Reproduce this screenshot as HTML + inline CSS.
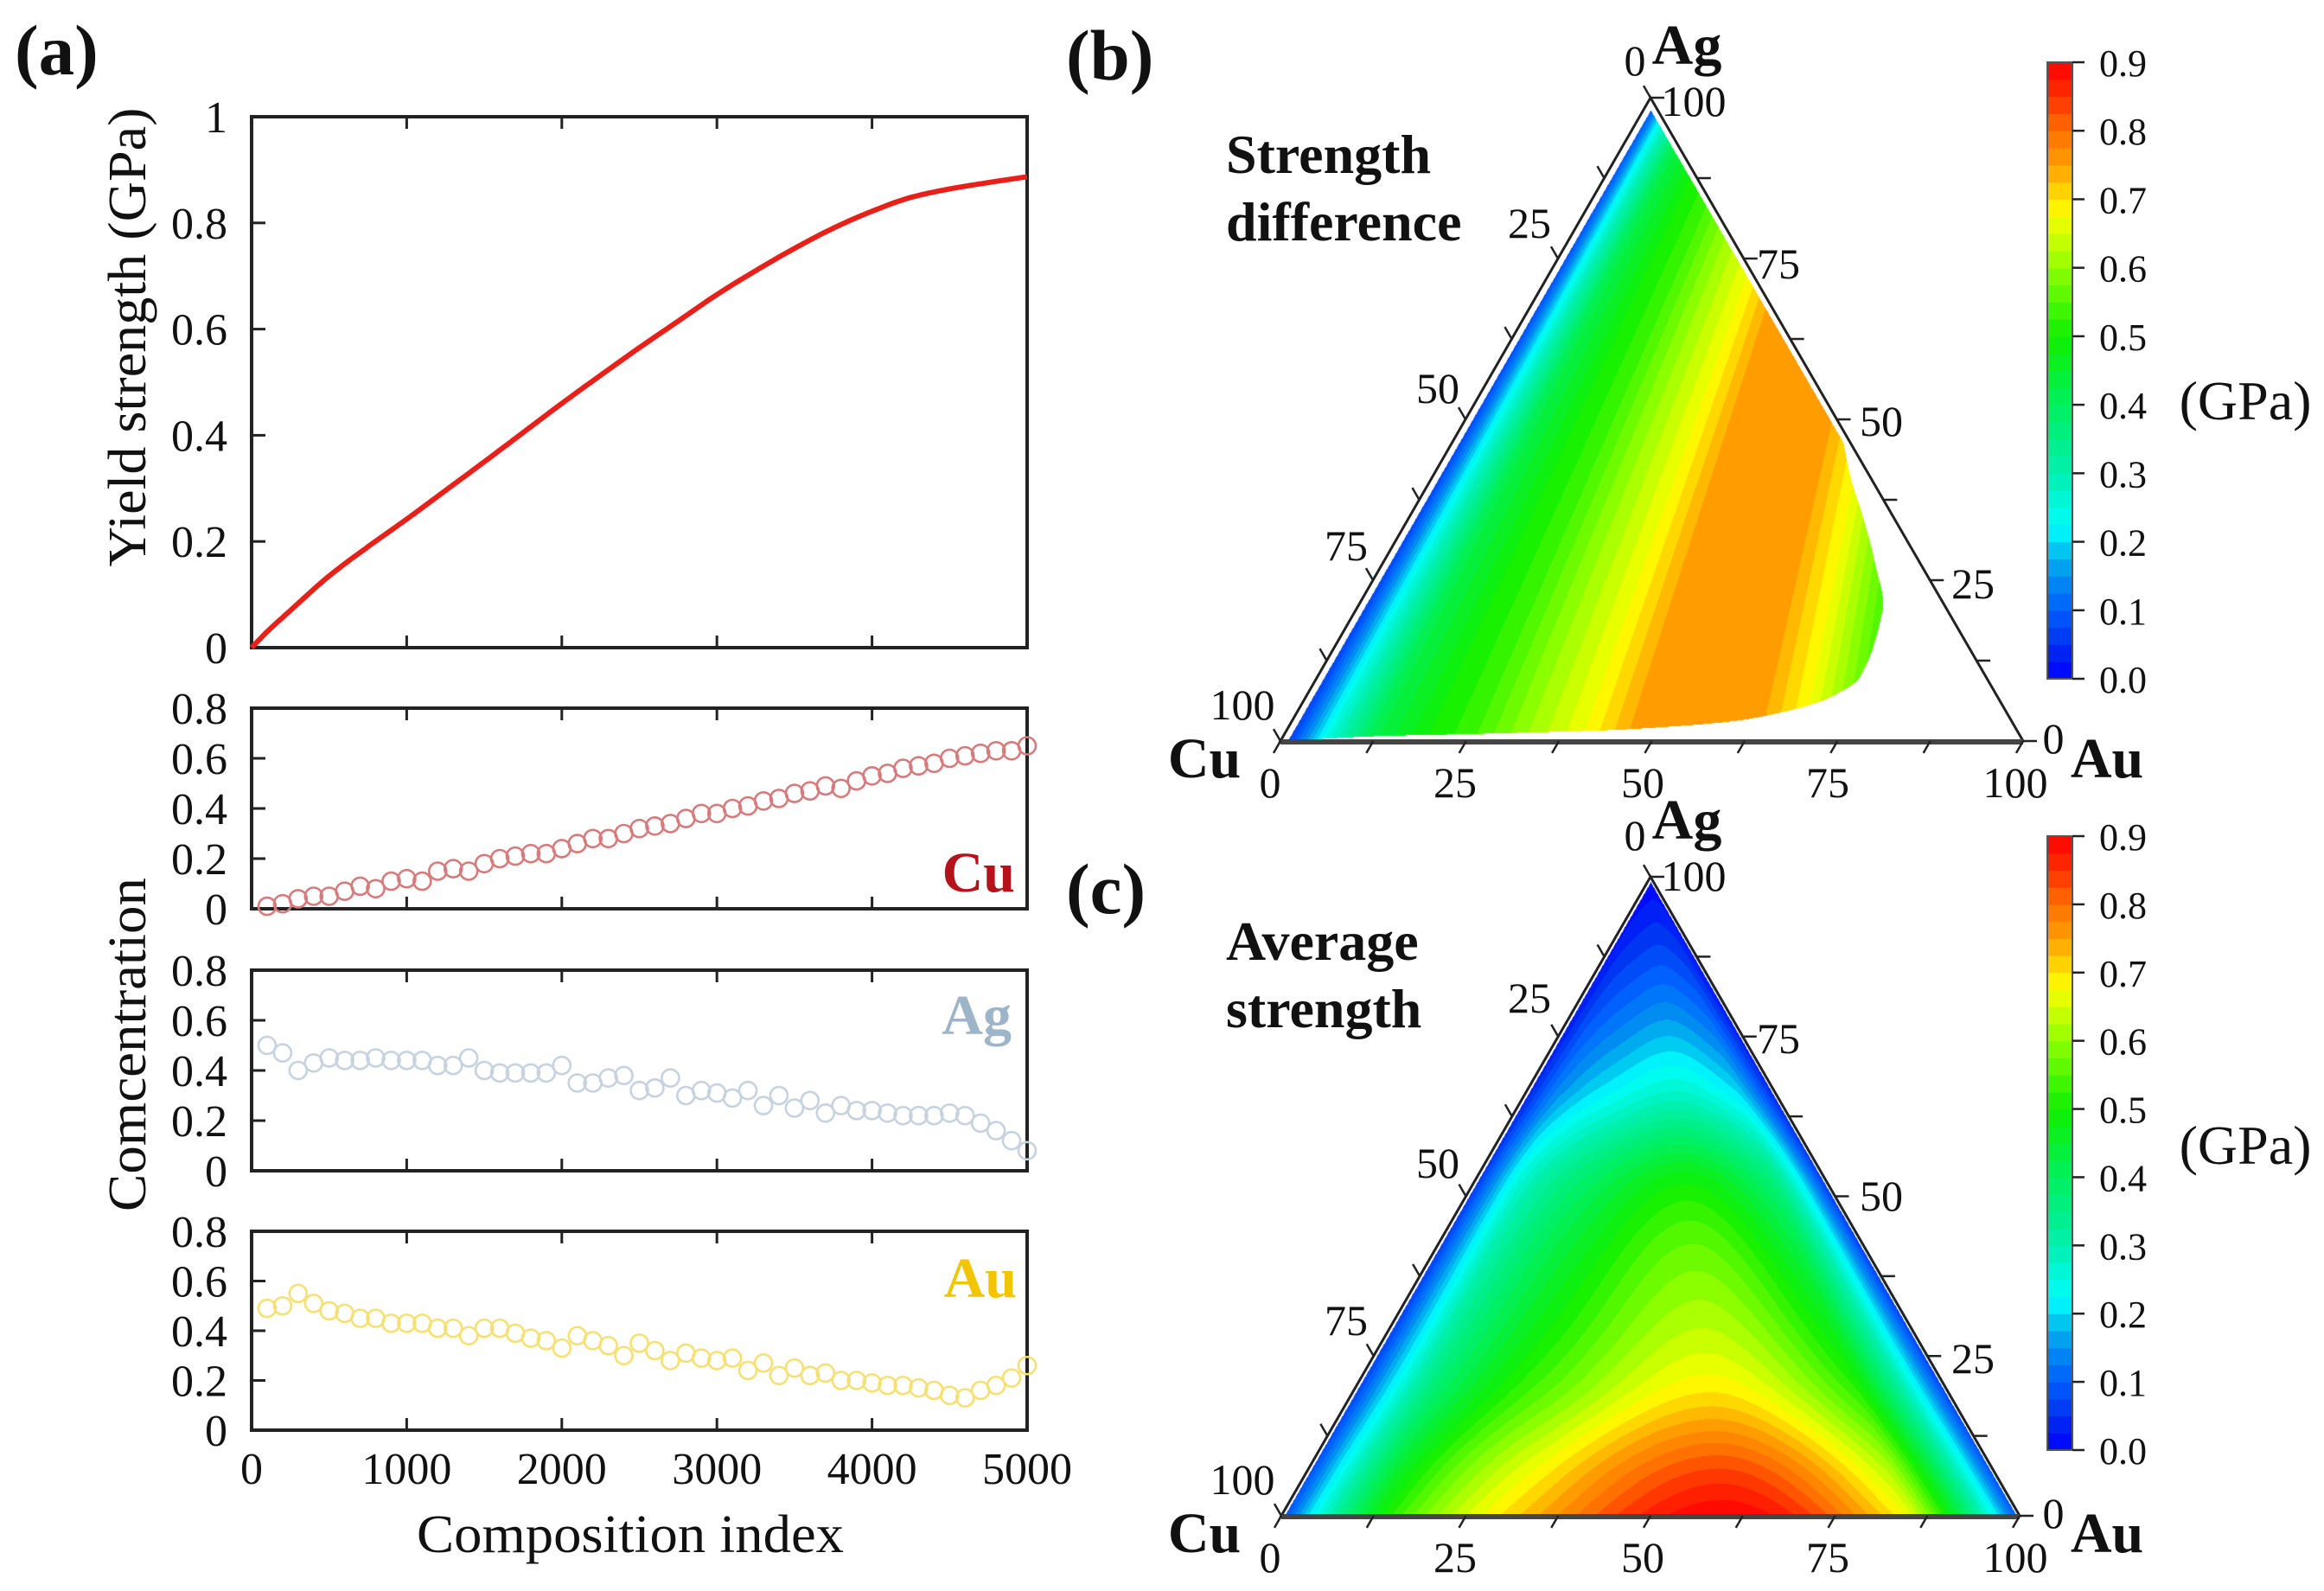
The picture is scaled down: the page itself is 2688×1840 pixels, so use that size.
<!DOCTYPE html>
<html><head><meta charset="utf-8">
<style>
html,body{margin:0;padding:0;background:#fff;}
#wrap{position:relative;width:2688px;height:1840px;overflow:hidden;}
#cv{position:absolute;left:0;top:0;}
#svg{position:absolute;left:0;top:0;}
text{font-family:"Liberation Serif","Times New Roman",serif;fill:#111;}
.tk{font-size:52px;}
.tt{font-size:50px;}
.cb{font-size:44px;}
.bold{font-weight:bold;}
</style></head>
<body>
<div id="wrap">
<canvas id="cv" width="2688" height="1840"></canvas>
<svg id="svg" width="2688" height="1840" viewBox="0 0 2688 1840" xmlns="http://www.w3.org/2000/svg">
  <text x="17" y="86" class="bold" font-size="83">(a)</text>
  <text x="1233" y="92" class="bold" font-size="83">(b)</text>
  <text x="1233" y="1056" class="bold" font-size="83">(c)</text>
  <text transform="translate(168,390) rotate(-90)" text-anchor="middle" font-size="62" textLength="531" lengthAdjust="spacingAndGlyphs">Yield strength (GPa)</text>
  <text transform="translate(168,1208) rotate(-90)" text-anchor="middle" font-size="62" textLength="386" lengthAdjust="spacingAndGlyphs">Comcentration</text>
  <text x="729" y="1795" text-anchor="middle" font-size="62" textLength="494" lengthAdjust="spacingAndGlyphs">Composition index</text>
  <text x="1174" y="1031" text-anchor="end" class="bold" font-size="66" style="fill:#b5121b">Cu</text>
  <text x="1170" y="1196" text-anchor="end" class="bold" font-size="66" style="fill:#9db4c9">Ag</text>
  <text x="1176" y="1500" text-anchor="end" class="bold" font-size="66" style="fill:#f2c500">Au</text>
  <text x="1418" y="200" class="bold" font-size="64">Strength</text>
  <text x="1418" y="278" class="bold" font-size="64">difference</text>
  <text x="1418" y="1110" class="bold" font-size="64">Average</text>
  <text x="1418" y="1188" class="bold" font-size="64">strength</text>
  <text x="2597" y="485" text-anchor="middle" font-size="64">(GPa)</text>
  <text x="2597" y="1346" text-anchor="middle" font-size="64">(GPa)</text>
  <g id="gA"></g>
  <g id="gB"></g>
  <g id="gC"></g>
</svg>
</div>
<script>
// ---------- data: panel (a) ----------
const yieldIdx = [0,100,250,500,750,1000,1250,1500,1750,2000,2250,2500,2750,3000,3250,3500,3750,4000,4250,4500,4750,5000];
const yieldVal = [0,0.03,0.07,0.135,0.19,0.242,0.296,0.35,0.405,0.46,0.513,0.565,0.615,0.665,0.71,0.752,0.79,0.822,0.848,0.864,0.876,0.887];
const compIdx = [100,200,300,400,500,600,700,800,900,1000,1100,1200,1300,1400,1500,1600,1700,1800,1900,2000,2100,2200,2300,2400,2500,2600,2700,2800,2900,3000,3100,3200,3300,3400,3500,3600,3700,3800,3900,4000,4100,4200,4300,4400,4500,4600,4700,4800,4900,5000];
const cuVal = [0.01,0.02,0.04,0.05,0.05,0.07,0.09,0.08,0.11,0.12,0.11,0.15,0.16,0.15,0.18,0.20,0.21,0.22,0.22,0.24,0.26,0.28,0.28,0.30,0.32,0.33,0.34,0.36,0.38,0.38,0.40,0.41,0.43,0.44,0.46,0.47,0.49,0.48,0.51,0.53,0.54,0.56,0.57,0.58,0.60,0.61,0.62,0.63,0.63,0.65];
const agVal = [0.50,0.47,0.40,0.43,0.45,0.44,0.44,0.45,0.44,0.44,0.44,0.42,0.42,0.45,0.40,0.39,0.39,0.39,0.39,0.42,0.35,0.35,0.37,0.38,0.32,0.33,0.37,0.30,0.32,0.31,0.29,0.32,0.26,0.30,0.25,0.28,0.23,0.26,0.24,0.24,0.23,0.22,0.22,0.22,0.23,0.22,0.19,0.16,0.12,0.08];
const auVal = [0.49,0.50,0.55,0.51,0.48,0.47,0.45,0.45,0.43,0.43,0.43,0.41,0.41,0.38,0.41,0.41,0.39,0.37,0.36,0.33,0.38,0.36,0.34,0.30,0.35,0.32,0.28,0.31,0.29,0.28,0.29,0.24,0.27,0.22,0.25,0.22,0.23,0.20,0.20,0.19,0.18,0.18,0.17,0.16,0.14,0.13,0.16,0.18,0.21,0.26];
const xTicks = [0,1000,2000,3000,4000,5000];
const yTicksTop = [0,0.2,0.4,0.6,0.8,1];
const yTicksSub = [0,0.2,0.4,0.6,0.8];
// ---------- data: ternary panels ----------
const terTicks = [0,25,50,75,100];
const cbTicks = [0,0.1,0.2,0.3,0.4,0.5,0.6,0.7,0.8,0.9];
const cmStops = [0,0.05,0.1,0.15,0.2,0.22,0.3,0.4,0.5,0.6,0.68,0.75,0.8,0.85,0.9];
const cmColors = ['#0000ff','#0030f0','#0060ff','#0090f0','#00d8f0','#00ffff','#00f0b0','#00f060','#10f000','#90ff00','#ffff00','#ffa000','#ff7000','#ff3000','#ff0000'];
// (b) strength difference vs skewed Au coordinate u = Au/(1-0.47*Ag)
const diffU = [0,0.02,0.06,0.12,0.2,0.25,0.32,0.4,0.48,0.63,0.7,0.78,0.85,1];
const diffV = [0.03,0.1,0.25,0.42,0.5,0.53,0.6,0.67,0.76,0.76,0.68,0.55,0.48,0.4];
// (b) data region: max Au fraction vs Ag fraction
const boundAg = [0,0.008,0.012,0.019,0.035,0.069,0.1,0.2,0.277,0.345,0.41,0.5,0.6,1];
const boundAu = [0,0.12,0.265,0.46,0.613,0.706,0.73,0.71,0.662,0.613,0.563,0.5,0.4,0];
// (c) average strength: profile vs t = Au/(Au+Cu), times S(1-Ag)
const avgT = [0,0.05,0.14,0.32,0.6,0.84,0.9,0.96,1];
const avgH = [0.08,0.28,0.56,0.8,1,0.76,0.56,0.28,0.08];
const avgS = [0,0.15,0.32,0.49,0.79,0.93,1];
const avgSV = [0,0.11,0.28,0.56,0.76,0.93,1];
const avgMax = [0.9];

const NS = 'http://www.w3.org/2000/svg';
function mk(parent, tag, attrs, txt){
  const e = document.createElementNS(NS, tag);
  for (const k in attrs) e.setAttribute(k, attrs[k]);
  if (txt !== undefined) e.textContent = txt;
  parent.appendChild(e);
  return e;
}
function interp(xs, ys, x){
  if (x <= xs[0]) return ys[0];
  for (let i=1;i<xs.length;i++){
    if (x <= xs[i]){ const f=(x-xs[i-1])/(xs[i]-xs[i-1]); return ys[i-1]+f*(ys[i]-ys[i-1]); }
  }
  return ys[ys.length-1];
}
function sinterp(xs, ys, x){
  const n = xs.length;
  if (x <= xs[0]) return ys[0];
  if (x >= xs[n-1]) return ys[n-1];
  let i=1; while (x > xs[i]) i++;
  const slope = k => {
    if (k===0) return (ys[1]-ys[0])/(xs[1]-xs[0]);
    if (k===n-1) return (ys[n-1]-ys[n-2])/(xs[n-1]-xs[n-2]);
    const d0=(ys[k]-ys[k-1])/(xs[k]-xs[k-1]), d1=(ys[k+1]-ys[k])/(xs[k+1]-xs[k]);
    if (d0*d1<=0) return 0;
    return 2/(1/d0+1/d1);
  };
  const h = xs[i]-xs[i-1], t=(x-xs[i-1])/h;
  const m0=slope(i-1)*h, m1=slope(i)*h;
  const t2=t*t, t3=t2*t;
  return (2*t3-3*t2+1)*ys[i-1] + (t3-2*t2+t)*m0 + (-2*t3+3*t2)*ys[i] + (t3-t2)*m1;
}
function hex(c){return [parseInt(c.substr(1,2),16),parseInt(c.substr(3,2),16),parseInt(c.substr(5,2),16)];}
const cmRGB = cmColors.map(hex);
function cmap(v){
  v = Math.max(0, Math.min(0.9, v));
  let i=1; while (i<cmStops.length-1 && v>cmStops[i]) i++;
  const f=(v-cmStops[i-1])/(cmStops[i]-cmStops[i-1]);
  const a=cmRGB[i-1], b=cmRGB[i];
  return [a[0]+f*(b[0]-a[0]), a[1]+f*(b[1]-a[1]), a[2]+f*(b[2]-a[2])];
}

// ---------- panel (a) ----------
const gA = document.getElementById('gA');
const X0=291, X1=1188;
const xs = i => X0 + i/5000*(X1-X0);
const plots = [
  {name:'yield', top:135, bot:749, max:1, ticks:yTicksTop},
  {name:'cu', top:819, bot:1051, max:0.8, ticks:yTicksSub},
  {name:'ag', top:1122, bot:1354, max:0.8, ticks:yTicksSub},
  {name:'au', top:1424, bot:1654, max:0.8, ticks:yTicksSub}
];
plots.forEach(p=>{
  p.y = v => p.bot - v/p.max*(p.bot-p.top);
  const fr = mk(gA,'rect',{x:X0,y:p.top,width:X1-X0,height:p.bot-p.top,fill:'none',stroke:'#222','stroke-width':4});
  
  
  xTicks.forEach(t=>{
    if (t===0||t===5000) return;
    const l1 = mk(gA,'line',{x1:xs(t),x2:xs(t),y1:p.bot,y2:p.bot-14,stroke:'#222','stroke-width':3});
    
    
    const l2 = mk(gA,'line',{x1:xs(t),x2:xs(t),y1:p.top,y2:p.top+14,stroke:'#222','stroke-width':3});
    
    
  });
  p.ticks.forEach(t=>{
    if (t>0 && t<p.max){
      const l = mk(gA,'line',{x1:X0,x2:X0+16,y1:p.y(t),y2:p.y(t),stroke:'#222','stroke-width':3});
      
      
    }
    const tx = mk(gA,'text',{x:263,y:p.y(t)+18,'text-anchor':'end',class:'tk'}, String(t));
    
    
  });
});
xTicks.forEach(t=>{
  const tx = mk(gA,'text',{x:xs(t),y:1716,'text-anchor':'middle',class:'tk'}, String(t));
  
  
});
(function(){
  const p = plots[0];
  let d = '';
  for (let i=0;i<=500;i++){
    const ix = i*10;
    const v = sinterp(yieldIdx, yieldVal, ix);
    d += (i===0?'M':' L') + xs(ix).toFixed(1) + ',' + p.y(v).toFixed(1);
  }
  const path = mk(gA,'path',{d:d,fill:'none',stroke:'#e8201a','stroke-width':6,'stroke-linejoin':'round'});
  
  
})();
[[1,cuVal,'#d77a7c','cu'],[2,agVal,'#c6d2de','ag'],[3,auVal,'#f6e072','au']].forEach(([pi,vals,col,nm])=>{
  const p = plots[pi];
  compIdx.forEach((ix,k)=>{
    const c = mk(gA,'circle',{cx:xs(ix),cy:p.y(vals[k]),r:10,fill:'none',stroke:col,'stroke-width':2.6});
    
    
  });
});

// ---------- ternary panels ----------
const ctx = document.getElementById('cv').getContext('2d');
function ternary(g, T, fieldFn, inset, offY, cbTop, cbBot, tag){
  const L = T.x1 - T.x0, H = T.yb - T.ya;
  const minX=Math.floor(T.x0), maxX=Math.ceil(T.x1), minY=Math.floor(T.ya), maxY=Math.ceil(T.yb);
  const img = ctx.createImageData(maxX-minX, maxY-minY);
  const step = 0.0225;
  for (let py=minY; py<maxY; py++){
    for (let px=minX; px<maxX; px++){
      const ag = (T.yb - py)/H;
      const au = (px - T.x0 - ag*(T.xa - T.x0))/L;
      const cu = 1 - au - ag;
      if (ag<0||au<0||cu<0) continue;
      const dl = Math.min(au,cu)*L*0.866, db = ag*H;
      if (dl < inset || db < 2) continue;
      let v = fieldFn(cu, au, ag);
      if (v === null) continue;
      v = Math.floor(v/step)*step + step/2;
      const c = cmap(v);
      const o = ((py-minY)*(maxX-minX) + (px-minX))*4;
      img.data[o]=c[0]; img.data[o+1]=c[1]; img.data[o+2]=c[2]; img.data[o+3]=255;
    }
  }
  ctx.putImageData(img, minX, minY);
  const tri = mk(g,'path',{d:`M${T.x0},${T.yb} L${T.x1},${T.yb} L${T.xa},${T.ya} Z`,fill:'none',stroke:'#222','stroke-width':3,'stroke-linejoin':'miter'});
  
  
  const base = mk(g,'line',{x1:T.x0,x2:T.x1,y1:T.yb+1,y2:T.yb+1,stroke:'#444','stroke-width':6});
  
  
  for (let k=0;k<=8;k++){
    const f=k/8, len = 16;
    const bx = T.x0 + f*L;
    const t1 = mk(g,'line',{x1:bx,y1:T.yb,x2:bx-0.5*len,y2:T.yb+0.866*len,stroke:'#222','stroke-width':2.5});
    
    
    const lx = T.x0 + f*(T.xa-T.x0), ly = T.yb - f*H;
    const t2 = mk(g,'line',{x1:lx,y1:ly,x2:lx-0.5*len,y2:ly-0.866*len,stroke:'#222','stroke-width':2.5});
    
    
    const rx = T.x1 - f*(T.x1-T.xa), ry = T.yb - f*H;
    const t3 = mk(g,'line',{x1:rx,y1:ry,x2:rx+len,y2:ry,stroke:'#222','stroke-width':2.5});
    
    
  }
  const bottomX=[1469,1683,1900,2114,2331];
  const leftPos=[[1891,70],[1769,258],[1663,449],[1557,631],[1437,815]];
  const rightPos=[[1959,117],[2057,305],[2176,487],[2282,675],[2375,854]];
  terTicks.forEach((t,k)=>{
    const a = mk(g,'text',{x:bottomX[k],y:905+offY+17,'text-anchor':'middle',class:'tt'}, String(t));
    
    
    const b = mk(g,'text',{x:leftPos[k][0],y:leftPos[k][1]+offY+17,'text-anchor':'middle',class:'tt'}, String(t));
    
    
    const c = mk(g,'text',{x:rightPos[k][0],y:rightPos[k][1]+offY+17,'text-anchor':'middle',class:'tt'}, String(terTicks[4-k]));
    
    
  });
  const cuL = mk(g,'text',{x:1393,y:899+offY,'text-anchor':'middle',class:'bold','font-size':66},'Cu');
  
  
  const auL = mk(g,'text',{x:2437,y:899+offY,'text-anchor':'middle',class:'bold','font-size':66},'Au');
  
  
  const agL = mk(g,'text',{x:1951,y:74+offY,'text-anchor':'middle',class:'bold','font-size':66},'Ag');
  
  
  const cbX=2368, cbW=29, n=36;
  for (let i=0;i<n;i++){
    const v0 = i/n*0.9;
    const y0 = cbBot - (i+1)/n*(cbBot-cbTop);
    const c = cmap(v0 + 0.9/n/2);
    const r = mk(g,'rect',{x:cbX,y:y0,width:cbW,height:(cbBot-cbTop)/n+0.6,fill:`rgb(${c[0]|0},${c[1]|0},${c[2]|0})`});
    
    
  }
  const cf = mk(g,'rect',{x:cbX,y:cbTop,width:cbW,height:cbBot-cbTop,fill:'none',stroke:'#555','stroke-width':2});
  
  
  cbTicks.forEach(t=>{
    const y = cbBot - t/0.9*(cbBot-cbTop);
    const l = mk(g,'line',{x1:cbX+cbW,x2:cbX+cbW+14,y1:y,y2:y,stroke:'#222','stroke-width':2.5});
    
    
    const tx = mk(g,'text',{x:2428,y:y+16,class:'cb'}, t.toFixed(1));
    
    
  });
}
const fieldDiff = (cu, au, ag) => {
  const lim = Math.min(1-ag, sinterp(boundAg, boundAu, ag));
  if (au > lim) return null;
  const u = au/(1-0.47*ag);
  return interp(diffU, diffV, u);
};
const fieldAvg = (cu, au, ag) => {
  const s = 1-ag;
  const t = s>1e-6 ? au/s : 0.5;
  return avgMax[0]*sinterp(avgT, avgH, t)*sinterp(avgS, avgSV, s);
};
ternary(document.getElementById('gB'), {x0:1481,x1:2340,xa:1909,ya:113,yb:857}, fieldDiff, 7, 0, 72, 785, 'b');
ternary(document.getElementById('gC'), {x0:1482,x1:2336,xa:1909,ya:1014,yb:1753}, fieldAvg, 3, 896, 967, 1677, 'c');
</script>
</body></html>
